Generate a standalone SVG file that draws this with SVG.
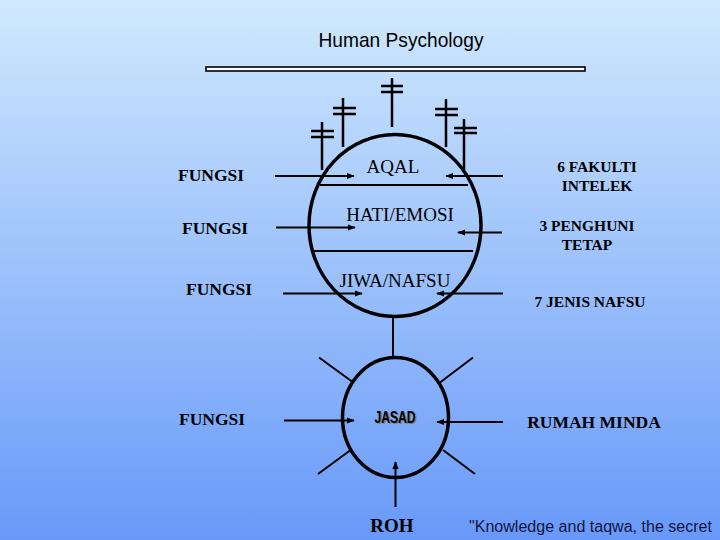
<svg xmlns="http://www.w3.org/2000/svg" width="720" height="540" viewBox="0 0 720 540">
<defs>
<linearGradient id="bg" x1="0" y1="0" x2="0" y2="1">
<stop offset="0" stop-color="#d0e9fd"/>
<stop offset="1" stop-color="#6899f9"/>
</linearGradient>
<marker id="ah" viewBox="0 0 10 10" refX="9" refY="5" markerWidth="4" markerHeight="4" orient="auto" markerUnits="strokeWidth">
<path d="M0,1 L10,5 L0,9 Z" fill="#000"/>
</marker>
<style>
.ln{stroke:#000;stroke-width:2;fill:none}
.ar{stroke:#000;stroke-width:2;fill:none;marker-end:url(#ah)}
.ant{stroke:#000;stroke-width:2.5;fill:none}
.shape{stroke:#000;stroke-width:3.5;fill:none}
.serif{font-family:"Liberation Serif","Times New Roman",serif;fill:#000}
.b{font-weight:bold}
.mid{text-anchor:middle}
</style>
</defs>
<rect x="0" y="0" width="720" height="540" fill="url(#bg)"/>

<g id="title">
<text x="401" y="47" class="mid" font-family="Liberation Sans, Arial, sans-serif" font-size="21" fill="#000" textLength="165" lengthAdjust="spacingAndGlyphs">Human Psychology</text>
<rect x="206" y="67" width="379" height="4" fill="#fff" stroke="#000" stroke-width="1.6"/>
</g>

<g id="antennas">
<path class="ant" d="M392,78 V127 M381,86 H403 M381,92 H403"/>
<path class="ant" d="M343,98 V147 M333,108 H356 M333,114 H356"/>
<path class="ant" d="M322,122 V170 M311,131 H334 M311,137 H334"/>
<path class="ant" d="M446,99 V147 M435,109 H458 M435,115 H458"/>
<path class="ant" d="M464,119 V170 M454,128 H477 M454,133 H477"/>
</g>

<g id="jiwa-circle">
<ellipse class="shape" cx="395" cy="225.5" rx="86" ry="91"/>
<line class="ln" x1="320" y1="185" x2="468" y2="185"/>
<line class="ln" x1="313" y1="251" x2="473" y2="251"/>
<text class="serif mid" x="393" y="173" font-size="19">AQAL</text>
<text class="serif mid" x="400" y="221" font-size="19">HATI/EMOSI</text>
<text class="serif mid" x="395" y="287" font-size="19">JIWA/NAFSU</text>
</g>

<g id="jasad">
<ellipse class="shape" cx="395.5" cy="417.5" rx="53" ry="60"/>
<text x="396.5" y="423.5" class="mid" font-family="Liberation Sans, Arial, sans-serif" font-size="17" font-weight="bold" fill="#7a7a7a" textLength="41" lengthAdjust="spacingAndGlyphs">JASAD</text>
<text x="395" y="422.5" class="mid" font-family="Liberation Sans, Arial, sans-serif" font-size="17" font-weight="bold" fill="#000" textLength="41" lengthAdjust="spacingAndGlyphs">JASAD</text>
</g>

<g id="fungsi-1"><text class="serif b" x="178" y="181" font-size="17.5">FUNGSI</text></g>
<g id="fungsi-2"><text class="serif b" x="182" y="234" font-size="17.5">FUNGSI</text></g>
<g id="fungsi-3"><text class="serif b" x="186" y="295" font-size="17.5">FUNGSI</text></g>
<g id="fungsi-4"><text class="serif b" x="179" y="425" font-size="17.5">FUNGSI</text></g>

<g id="fakulti"><text class="serif b mid" x="597" y="172" font-size="15.5">6 FAKULTI</text><text class="serif b mid" x="597" y="191" font-size="15.5">INTELEK</text></g>
<g id="penghuni"><text class="serif b mid" x="587" y="231" font-size="15.5">3 PENGHUNI</text><text class="serif b mid" x="587" y="250" font-size="15.5">TETAP</text></g>
<g id="nafsu"><text class="serif b mid" x="590" y="307" font-size="15.5">7 JENIS NAFSU</text></g>
<g id="rumah"><text class="serif b mid" x="594" y="428" font-size="17.5">RUMAH MINDA</text></g>
<g id="roh"><text class="serif b mid" x="392" y="532" font-size="19">ROH</text></g>
<g id="quote"><text x="469" y="532" font-family="Liberation Sans, Arial, sans-serif" font-size="16" fill="#141440" textLength="243" lengthAdjust="spacingAndGlyphs">"Knowledge and taqwa, the secret</text></g>

<g id="connectors">
<line class="ar" x1="275" y1="176" x2="354" y2="176"/>
<line class="ar" x1="503" y1="176" x2="446" y2="176"/>
<line class="ar" x1="276" y1="227.5" x2="355" y2="227.5"/>
<line class="ar" x1="502" y1="232.5" x2="458" y2="232.5"/>
<line class="ar" x1="283" y1="293.5" x2="362" y2="293.5"/>
<line class="ar" x1="503" y1="293.5" x2="437" y2="293.5"/>
<line class="ln" x1="393" y1="317" x2="393" y2="358" stroke-width="2.5"/>
<line class="ln" x1="319" y1="357.5" x2="352" y2="381.5" stroke-width="2.5"/>
<line class="ln" x1="473" y1="357.5" x2="440" y2="382.5" stroke-width="2.5"/>
<line class="ln" x1="318" y1="474" x2="350" y2="450.5" stroke-width="2.5"/>
<line class="ln" x1="475" y1="474" x2="443" y2="450" stroke-width="2.5"/>
<line class="ar" x1="284" y1="420.5" x2="354" y2="420.5"/>
<line class="ar" x1="503" y1="422" x2="437" y2="422"/>
<line class="ar" x1="395.5" y1="507" x2="395.5" y2="462"/>
</g>
</svg>
